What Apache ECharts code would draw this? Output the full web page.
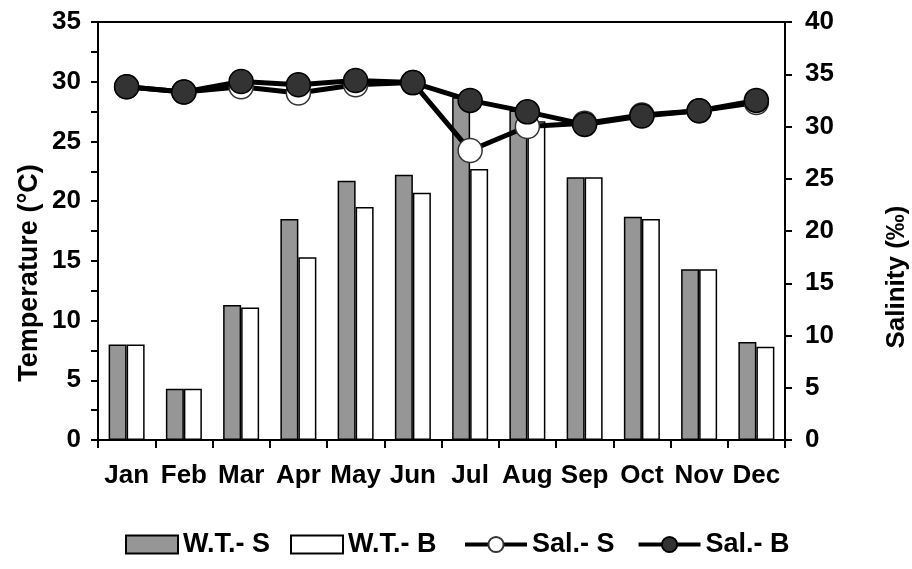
<!DOCTYPE html>
<html>
<head>
<meta charset="utf-8">
<script src="https://cdn.jsdelivr.net/npm/echarts@6/dist/echarts.min.js"></script>
<style>
  html, body { margin: 0; padding: 0; background: #fff; }
  #chart { width: 912px; height: 569px; }
</style>
</head>
<body>
<div id="chart"></div>
<script>
// Monthly water temperature (surface / bottom) and salinity (surface / bottom)
const months = ['Jan', 'Feb', 'Mar', 'Apr', 'May', 'Jun', 'Jul', 'Aug', 'Sep', 'Oct', 'Nov', 'Dec'];
const tempSurface = [8.0, 4.3, 11.3, 18.5, 21.7, 22.2, 28.7, 27.6, 22.0, 18.7, 14.3, 8.2];
const tempBottom  = [8.0, 4.3, 11.1, 15.3, 19.5, 20.7, 22.7, 26.7, 22.0, 18.5, 14.3, 7.8];
const salSurface  = [33.8, 33.3, 33.8, 33.2, 34.0, 34.2, 27.7, 30.0, 30.3, 31.1, 31.5, 32.3];
const salBottom   = [33.8, 33.3, 34.3, 34.0, 34.4, 34.2, 32.5, 31.4, 30.2, 31.0, 31.5, 32.5];
const tempTicks = { min: 0, max: 35, interval: 5 };
const salTicks  = { min: 0, max: 40, interval: 5 };

const FONT = 'Liberation Sans, Arial, sans-serif';
const chart = echarts.init(document.getElementById('chart'));

const axisText = { fontFamily: FONT, fontWeight: 'bold', fontSize: 26, color: '#000' };
const legendText = { fontFamily: FONT, fontWeight: 'bold', fontSize: 27, color: '#000' };

chart.setOption({
  animation: false,
  backgroundColor: '#fff',
  grid: {
    left: 98, right: 127, top: 22, bottom: 129,
    show: true, borderColor: '#000', borderWidth: 2, backgroundColor: 'transparent'
  },
  legend: [
    {
      // temperature bars
      bottom: 6, left: 120,
      itemWidth: 52, itemHeight: 18, itemGap: 20,
      textStyle: legendText,
      data: [
        { name: 'W.T.- S', icon: 'rect' },
        { name: 'W.T.- B', icon: 'rect' }
      ]
    },
    {
      // salinity lines
      bottom: 6, left: 458,
      itemWidth: 62, itemHeight: 19, itemGap: 22,
      textStyle: legendText,
      lineStyle: { width: 4, color: '#000' },
      data: ['Sal.- S', 'Sal.- B']
    }
  ],
  xAxis: {
    type: 'category',
    data: months,
    boundaryGap: true,
    axisLine: { lineStyle: { color: '#000', width: 2 } },
    axisTick: { show: true, length: 8, lineStyle: { color: '#000', width: 2 } },
    axisLabel: Object.assign({ margin: 23, interval: 0, hideOverlap: false }, axisText),
    splitLine: { show: false }
  },
  yAxis: [
    {
      type: 'value',
      min: tempTicks.min, max: tempTicks.max, interval: tempTicks.interval,
      axisLine: { show: true, lineStyle: { color: '#000', width: 2 } },
      axisTick: { show: true, length: 7, lineStyle: { color: '#000', width: 2 } },
      minorTick: { show: true, splitNumber: 2, length: 7, lineStyle: { color: '#000', width: 2 } },
      axisLabel: Object.assign({ margin: 17 }, axisText),
      splitLine: { show: false }
    },
    {
      type: 'value',
      position: 'right',
      min: salTicks.min, max: salTicks.max, interval: salTicks.interval,
      axisLine: { show: true, lineStyle: { color: '#000', width: 2 } },
      axisTick: { show: true, length: 7, lineStyle: { color: '#000', width: 2 } },
      axisLabel: Object.assign({ margin: 20 }, axisText),
      splitLine: { show: false }
    }
  ],
  graphic: [
    {
      type: 'text', x: 30, y: 273, rotation: Math.PI / 2,
      style: { text: 'Temperature (°C)', fontFamily: FONT, fontWeight: 'bold', fontSize: 27,
               fill: '#000', align: 'center', verticalAlign: 'middle' }
    },
    {
      type: 'text', x: 897, y: 277, rotation: Math.PI / 2,
      style: { text: 'Salinity (‰)', fontFamily: FONT, fontWeight: 'bold', fontSize: 26,
               fill: '#000', align: 'center', verticalAlign: 'middle' }
    }
  ],
  series: [
    {
      name: 'W.T.- S', type: 'bar', yAxisIndex: 0, data: tempSurface,
      barWidth: 18, barGap: '0%',
      itemStyle: { color: '#969696', borderColor: '#000', borderWidth: 1.5 },
      z: 2
    },
    {
      name: 'W.T.- B', type: 'bar', yAxisIndex: 0, data: tempBottom,
      barWidth: 18, barGap: '0%',
      itemStyle: { color: '#fff', borderColor: '#000', borderWidth: 1.5 },
      z: 2
    },
    {
      name: 'Sal.- S', type: 'line', yAxisIndex: 1, data: salSurface,
      symbol: 'circle', symbolSize: 24,
      lineStyle: { color: '#000', width: 5 },
      itemStyle: { color: '#fff', borderColor: '#333', borderWidth: 1.5 },
      z: 3
    },
    {
      name: 'Sal.- B', type: 'line', yAxisIndex: 1, data: salBottom,
      symbol: 'circle', symbolSize: 24,
      lineStyle: { color: '#000', width: 5 },
      itemStyle: { color: '#333', borderColor: '#000', borderWidth: 1.5 },
      z: 4
    }
  ]
});
</script>
</body>
</html>
